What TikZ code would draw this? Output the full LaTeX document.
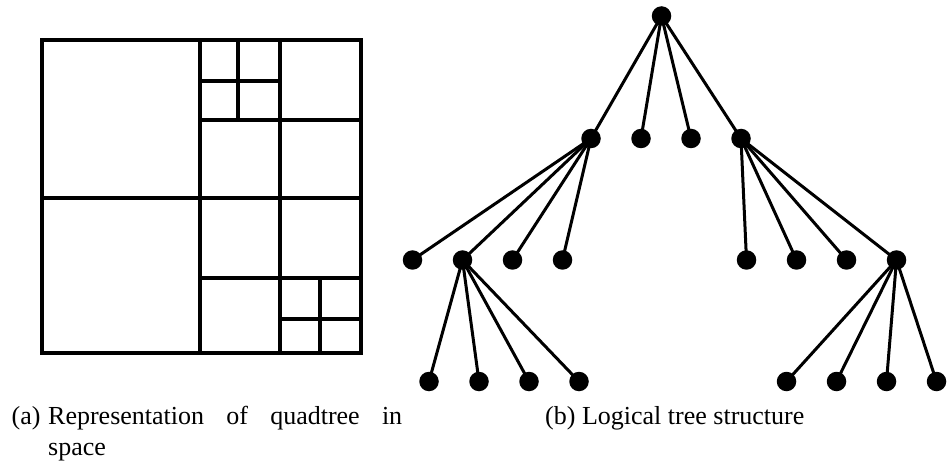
\documentclass[tikz,border=0pt]{standalone}
\usepackage{fontspec}
\setmainfont{Liberation Serif}
\begin{document}
\begin{tikzpicture}[x=1pt,y=-1pt,
  grid/.style={line width=4pt,line cap=rect},
  leaf/.style={circle,fill=black,inner sep=0pt,minimum size=19.5pt},
  edge/.style={line width=3pt},
  captext/.style={font=\fontsize{26}{31}\selectfont,inner sep=0pt,anchor=base west}]
\useasboundingbox (0,0) rectangle (948,465);

% --- quadtree partition of the plane ---
\draw[grid] (41.5,40) rectangle (361,353);
\draw[grid] (200,40) -- (200,353);
\draw[grid] (41.5,198) -- (361,198);
\draw[grid] (280,40) -- (280,353);
\draw[grid] (200,120) -- (361,120);
\draw[grid] (200,278) -- (361,278);
% subdivided cells
\draw[grid] (238,40) -- (238,120);
\draw[grid] (200,81) -- (280,81);
\draw[grid] (320,278) -- (320,353);
\draw[grid] (280,319) -- (361,319);

% --- logical tree ---
\coordinate (r) at (661.5,16);
\coordinate (a) at (591,138.5);
\coordinate (b) at (641,138.5);
\coordinate (c) at (691,138.5);
\coordinate (d) at (741,138.5);
\coordinate (a1) at (412.5,260);
\coordinate (a2) at (462.5,260);
\coordinate (a3) at (512.5,260);
\coordinate (a4) at (562.5,260);
\coordinate (d1) at (746.5,260);
\coordinate (d2) at (796.5,260);
\coordinate (d3) at (846.5,260);
\coordinate (d4) at (896.5,260);
\coordinate (e1) at (429,381.5);
\coordinate (e2) at (479,381.5);
\coordinate (e3) at (529,381.5);
\coordinate (e4) at (579,381.5);
\coordinate (f1) at (786.5,381.5);
\coordinate (f2) at (836.5,381.5);
\coordinate (f3) at (886.5,381.5);
\coordinate (f4) at (936.5,381.5);

\foreach \p/\q in {r/a,r/b,r/c,r/d,
                   a/a1,a/a2,a/a3,a/a4,
                   d/d1,d/d2,d/d3,d/d4,
                   a2/e1,a2/e2,a2/e3,a2/e4,
                   d4/f1,d4/f2,d4/f3,d4/f4}
  \draw[edge] (\p) -- (\q);

\foreach \n in {r,a,b,c,d,a1,a2,a3,a4,d1,d2,d3,d4,e1,e2,e3,e4,f1,f2,f3,f4}
  \node[leaf] (n\n) at (\n) {};

% --- captions ---
\node[captext] (capa) at (11.5,424.5) {(a)};
\node[captext,text width=354pt,align=left] (capabody) at (48,424.5)
  {\makebox[354pt][l]{Representation\hfill of\hfill quadtree\hfill in}\\space};
\node[captext] (capb) at (545,424.5) {(b) Logical tree structure};
\end{tikzpicture}
\end{document}
